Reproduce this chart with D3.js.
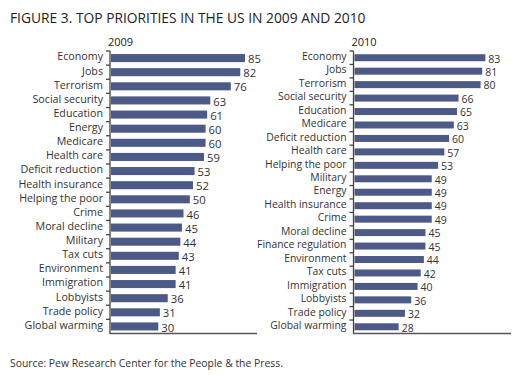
<!DOCTYPE html>
<html><head><meta charset="utf-8">
<script src="https://cdn.jsdelivr.net/npm/d3@7"></script>
<style>body{margin:0;background:#fff}svg{display:block}</style>
</head><body>
<script>
const cats2009 = ["Economy","Jobs","Terrorism","Social security","Education","Energy","Medicare","Health care","Deficit reduction","Health insurance","Helping the poor","Crime","Moral decline","Military","Tax cuts","Environment","Immigration","Lobbyists","Trade policy","Global warming"];
const vals2009 = [85,82,76,63,61,60,60,59,53,52,50,46,45,44,43,41,41,36,31,30];
const cats2010 = ["Economy","Jobs","Terrorism","Social security","Education","Medicare","Deficit reduction","Health care","Helping the poor","Military","Energy","Health insurance","Crime","Moral decline","Finance regulation","Environment","Tax cuts","Immigration","Lobbyists","Trade policy","Global warming"];
const vals2010 = [83,81,80,66,65,63,60,57,53,49,49,49,49,45,45,44,42,40,36,32,28];

const W=523,H=375;
const font="'Open Sans', 'Liberation Sans', sans-serif";
const svg=d3.select("body").append("svg").attr("width",W).attr("height",H);

svg.append("text").attr("x",10).attr("y",23).attr("font-family",font).attr("font-size",13.8)
  .attr("fill","#222").text("FIGURE 3. TOP PRIORITIES IN THE US IN 2009 AND 2010");
svg.append("text").attr("x",10).attr("y",367).attr("font-family",font).attr("font-size",10.4)
  .attr("fill","#333").text("Source: Pew Research Center for the People & the Press.");

function panel(cats, vals, year, ax, axEnd, pad, cfs, vfs){
  const top=51,bottom=333.5;
  const y=d3.scaleBand().domain(cats).range([top,bottom]).paddingInner(pad).paddingOuter(pad/2);
  const x=d3.scaleLinear().domain([0,85]).range([ax+1, ax+1+134]);
  const g=svg.append("g");
  g.append("text").attr("x",ax-2).attr("y",46).attr("font-family",font).attr("font-size",11)
    .attr("fill","#222").text(year);
  g.selectAll("rect").data(cats).join("rect")
    .attr("x",x(0)).attr("y",d=>y(d)).attr("height",y.bandwidth())
    .attr("width",(d,i)=>x(vals[i])-x(0)).attr("fill","#4d5a87");
  g.selectAll("text.v").data(cats).join("text").attr("class","v")
    .attr("x",(d,i)=>x(vals[i])+3).attr("y",d=>y(d)+y.bandwidth()/2+1)
    .attr("dy","0.36em").attr("font-family",font).attr("font-size",vfs).attr("fill","#333")
    .text((d,i)=>vals[i]);
  g.selectAll("text.c").data(cats).join("text").attr("class","c")
    .attr("x",ax-7).attr("y",d=>y(d)+y.bandwidth()/2-1.5)
    .attr("dy","0.36em").attr("text-anchor","end").attr("font-family",font).attr("font-size",cfs)
    .attr("fill","#333").text(d=>d);
  const bounds=d3.range(cats.length).map(i=>top+i*(bottom-top)/cats.length);
  g.append("line").attr("x1",ax).attr("x2",ax).attr("y1",top).attr("y2",bottom)
    .attr("stroke","#444").attr("stroke-width",1.3);
  g.selectAll("line.t").data(bounds).join("line").attr("class","t")
    .attr("x1",ax-4).attr("x2",ax).attr("y1",d=>d).attr("y2",d=>d)
    .attr("stroke","#444").attr("stroke-width",1.3);
  g.append("line").attr("x1",ax-0.6).attr("x2",axEnd).attr("y1",bottom).attr("y2",bottom)
    .attr("stroke","#555").attr("stroke-width",1.6);
}
panel(cats2009, vals2009, "2009", 110, 257, 0.43, 10.7, 11.3);
panel(cats2010, vals2010, "2010", 353.5, 511, 0.48, 10.4, 10.5);
</script>
</body></html>
